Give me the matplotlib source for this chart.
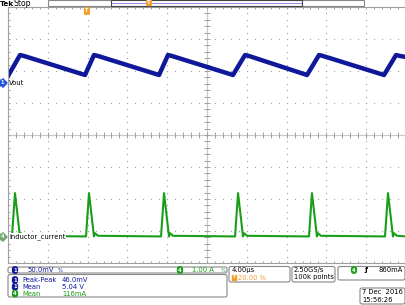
import numpy as np
import matplotlib
matplotlib.use('Agg')
import matplotlib.pyplot as plt
from matplotlib.patches import FancyBboxPatch, Rectangle

# ---- scope settings ----
us_per_div = 4.0
ch1_mv_per_div = 50.0
ch4_a_per_div = 1.0
ch1_ref_div = 1.625     # Vout marker position (divisions above centre)
ch4_ref_div = -3.19     # Inductor_current marker position

# ---- channel 1 : Vout ripple (mV above marker) ----
vout_t = [0.0, 1.21, 1.61, 7.74, 8.64, 9.05, 15.18, 16.08, 16.48, 22.61, 23.82, 24.22,
          30.05, 31.26, 31.66, 37.79, 39.00, 39.40, 40.0]
vout_mv = [10.9, 43.7, 42.2, 12.5, 43.7, 42.2, 12.5, 43.7, 42.2, 12.5, 43.7, 42.2,
           12.5, 43.7, 42.2, 12.5, 43.7, 42.2, 40.6]

# ---- channel 4 : inductor current (A above marker) ----
il_t = [0.0, 0.40, 0.70, 1.20, 1.30, 1.60,
        7.84, 8.14, 8.64, 8.74, 9.04,
        15.38, 15.68, 16.18, 16.28, 16.58,
        22.82, 23.12, 23.62, 23.72, 24.02,
        30.25, 30.55, 31.05, 31.15, 31.45,
        37.89, 38.19, 38.69, 38.79, 39.09, 40.0]
il_a = [0.02, 0.02, 1.375, 0.02, 0.12, 0.04,
        0.02, 1.375, 0.02, 0.12, 0.04,
        0.02, 1.375, 0.02, 0.12, 0.04,
        0.02, 1.375, 0.02, 0.12, 0.04,
        0.02, 1.375, 0.02, 0.12, 0.04,
        0.02, 1.375, 0.02, 0.12, 0.04, 0.02]

blue = '#10189a'
green = '#1a9e1a'
grey = '#a0a0a0'
orange = '#f0a030'

fig = plt.figure(figsize=(4.06, 3.05), dpi=100)
fig.patch.set_facecolor('white')

ax = fig.add_axes([8/406, 42/305, 398/406, 256/305])
ax.set_xlim(0, 10*us_per_div)
ax.set_ylim(-4, 4)
ax.set_xticks([]); ax.set_yticks([])
for s in ax.spines.values():
    s.set_color(grey); s.set_linewidth(0.8)

# graticule dots
minor_x = np.arange(0, 40.01, 0.8)
minor_y = np.arange(-4, 4.01, 0.2)
for gx in np.arange(4, 40, 4):
    if gx == 20: continue
    ax.plot(np.full(len(minor_y), gx), minor_y, ls='none', marker='s', ms=0.8, color=grey, mew=0)
for gy in np.arange(-3, 4, 1):
    if gy == 0: continue
    ax.plot(minor_x, np.full(len(minor_x), gy), ls='none', marker='s', ms=0.8, color=grey, mew=0)
# centre cross with ticks
ax.axhline(0, color='#c8c8c8', lw=0.9)
ax.axvline(20, color='#c8c8c8', lw=0.9)
ax.plot(minor_x, np.zeros(len(minor_x)), ls='none', marker='|', ms=4, color=grey, mew=0.7)
ax.plot(np.full(len(minor_y), 20), minor_y, ls='none', marker='_', ms=4, color=grey, mew=0.7)
# edge ticks
ax.plot(minor_x, np.full(len(minor_x), -4), ls='none', marker='|', ms=3, color=grey, mew=0.7)
ax.plot(minor_x, np.full(len(minor_x), 4), ls='none', marker='|', ms=3, color=grey, mew=0.7)
ax.plot(np.zeros(len(minor_y)), minor_y, ls='none', marker='_', ms=3, color=grey, mew=0.7)

# traces
ax.plot(vout_t, ch1_ref_div + np.array(vout_mv)/ch1_mv_per_div, color=blue, lw=3.2, solid_joinstyle='round')
ax.plot(il_t, ch4_ref_div + np.array(il_a)/ch4_a_per_div, color=green, lw=1.5)

# ---- overlay in pixel coordinates ----
ov = fig.add_axes([0, 0, 1, 1], zorder=5)
ov.set_xlim(0, 406); ov.set_ylim(305, 0); ov.axis('off')
fs = 4.9

def box(x0, y0, x1, y1, ec='#888888'):
    ov.add_patch(FancyBboxPatch((x0, y0), x1-x0, y1-y0, boxstyle='round,pad=0,rounding_size=2',
                                fc='white', ec=ec, lw=0.8))

def badge(x, y, n, c):
    ov.text(x, y, n, color='white', fontsize=3.7, fontweight='bold', ha='center', va='center',
            bbox=dict(boxstyle='round,pad=0.12,rounding_size=0.4', fc=c, ec=c))

# top status bar
ov.text(0, 3.5, 'Tek', fontsize=5.3, fontweight='bold', va='center')
ov.text(14, 3.5, 'Stop', fontsize=5.6, va='center')
ov.add_patch(Rectangle((48, 0), 316, 6, fc='white', ec='#888888', lw=0.8))
ov.add_patch(Rectangle((111, 0), 191, 6, fc='white', ec='#444444', lw=0.8))
ov.plot([112, 301], [3, 3], color='#9090e0', lw=0.8)
ov.text(149, 2.5, 'T', fontsize=3.5, color='white', fontweight='bold', ha='center', va='center',
        bbox=dict(boxstyle='round,pad=0.1', fc=orange, ec=orange))
ov.text(87, 11, 'T', fontsize=3.5, color='white', fontweight='bold', ha='center', va='center',
        bbox=dict(boxstyle='round,pad=0.15', fc=orange, ec=orange))

# channel markers
ov.text(2.3, 83, '1', fontsize=3.6, color='white', fontweight='bold', ha='center', va='center',
        bbox=dict(boxstyle='rarrow,pad=0.08', fc='#2050e0', ec='#2050e0'))
ov.text(9, 83, 'Vout', fontsize=fs, va='center')
ov.text(2.3, 237, '4', fontsize=3.6, color='white', fontweight='bold', ha='center', va='center',
        bbox=dict(boxstyle='rarrow,pad=0.08', fc='#70a870', ec='#70a870'))
ov.text(9, 237, 'Inductor_current', fontsize=fs, va='center',
        bbox=dict(boxstyle='square,pad=0.05', fc='white', ec='none'))

# bottom readouts
box(8, 267, 227, 273)
badge(15, 270, '1', blue)
ov.text(27, 270, '50.0mV', color=blue, fontsize=fs, va='center')
ov.text(58, 270, '%', color=blue, fontsize=3.8, va='center')
badge(180, 270, '4', green)
ov.text(192, 270, '1.00 A', color=green, fontsize=fs, va='center')
ov.text(221, 270, '%', color=green, fontsize=3.8, va='center')

box(8, 274.5, 227, 297)
meas_names = ['Peak-Peak', 'Mean', 'Mean']
meas_vals = ['46.0mV', '5.04 V', '116mA']
meas_ch = ['1', '1', '4']
for i in range(3):
    yy = 280 + i*6.8
    c = blue if meas_ch[i] == '1' else green
    badge(15, yy, meas_ch[i], c)
    ov.text(22, yy, meas_names[i], color=c, fontsize=fs, va='center')
    ov.text(62, yy, meas_vals[i], color=c, fontsize=fs, va='center')

box(229, 266.5, 290, 282)
ov.text(232, 270, '4.00\u00b5s', fontsize=fs, va='center')
ov.text(234, 277.5, 'T', fontsize=3, color='white', fontweight='bold', ha='center', va='center',
        bbox=dict(boxstyle='square,pad=0.1', fc=orange, ec=orange))
ov.text(238, 277.5, '20.00 %', color=orange, fontsize=fs, va='center')

box(292, 266.5, 335, 282)
ov.text(294, 270, '2.50GS/s', fontsize=fs, va='center')
ov.text(294, 277.5, '100k points', fontsize=fs, va='center')

box(338, 266.5, 405, 280)
badge(354, 270, '4', green)
ov.text(364, 270, '\u0192', fontsize=fs, va='center', fontweight='bold')
ov.text(403, 270, '860mA', fontsize=fs, va='center', ha='right')

box(360, 288, 405, 304)
ov.text(403, 292, '7 Dec  2016', fontsize=fs, va='center', ha='right')
ov.text(362, 299.5, '15:56:26', fontsize=fs, va='center')

fig.savefig('out.png', dpi=100, facecolor='white')
